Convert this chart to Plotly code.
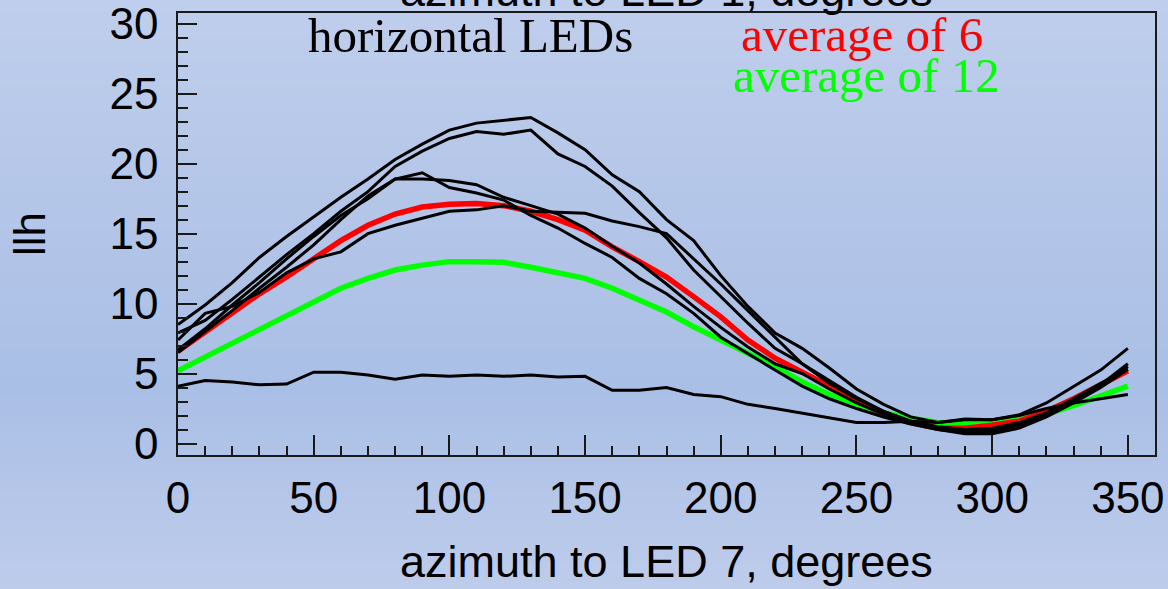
import plotly.graph_objects as go

# azimuth samples (degrees)
azimuth = list(range(0, 360, 10))

# individual horizontal LED responses
led_a = [8.5, 9.9, 11.5, 13.3, 14.8, 16.2, 17.6, 18.9, 20.3, 21.4, 22.4, 22.9,
         23.1, 23.3, 22.2, 21.0, 19.2, 18.0, 16.0, 14.5, 12.0, 9.8, 7.9, 6.8,
         5.4, 3.9, 2.8, 1.9, 1.5, 1.75, 1.7, 2.05, 2.9, 4.05, 5.25, 6.8]
led_b = [7.9, 8.8, 10.3, 11.9, 13.5, 15.0, 16.6, 18.0, 19.8, 20.9, 21.8, 22.3,
         22.1, 22.4, 20.7, 19.8, 18.4, 16.5, 14.7, 12.4, 10.5, 8.6, 6.8, 5.7,
         4.3, 3.2, 2.3, 1.6, 1.0, 0.8, 0.85, 1.3, 2.0, 3.0, 4.1, 5.5]
led_c = [6.7, 8.2, 9.9, 11.5, 13.2, 14.8, 16.3, 17.5, 18.9, 19.35, 18.3, 17.9,
         17.4, 16.3, 15.4, 14.3, 13.3, 11.8, 10.7, 9.3, 7.6, 6.4, 5.25, 4.1,
         3.2, 2.5, 1.9, 1.4, 1.0, 0.7, 0.7, 1.1, 1.9, 2.9, 4.0, 5.3]
led_d = [6.5, 8.0, 9.5, 11.1, 12.6, 14.2, 16.0, 17.7, 18.9, 18.9, 18.8, 18.5,
         17.6, 17.0, 16.4, 15.4, 14.1, 12.9, 11.4, 9.8, 8.3, 6.9, 5.7, 5.0,
         3.9, 2.9, 2.1, 1.5, 1.1, 0.9, 1.0, 1.4, 2.1, 3.1, 4.2, 5.7]
led_e = [7.4, 9.3, 9.8, 10.8, 12.2, 13.2, 13.7, 15.0, 15.6, 16.1, 16.6, 16.7,
         17.0, 16.6, 16.5, 16.45, 15.9, 15.5, 15.0, 13.2, 11.4, 9.5, 7.6, 5.7,
         4.5, 3.3, 2.3, 1.6, 1.2, 1.0, 1.1, 1.5, 2.2, 3.2, 4.3, 5.3]
led_f = [4.1, 4.5, 4.4, 4.2, 4.25, 5.1, 5.1, 4.9, 4.6, 4.9, 4.8, 4.9,
         4.8, 4.9, 4.75, 4.8, 3.8, 3.8, 4.0, 3.5, 3.35, 2.8, 2.5, 2.15,
         1.8, 1.5, 1.5, 1.6, 1.5, 1.7, 1.7, 2.0, 2.5, 2.9, 3.2, 3.5]

# averaged responses
avg_6 = [6.6, 8.0, 9.3, 10.7, 11.9, 13.2, 14.5, 15.6, 16.4, 16.9, 17.1, 17.15,
         17.0, 16.6, 16.0, 15.25, 14.05, 13.0, 11.9, 10.5, 9.05, 7.4, 6.1, 5.1,
         4.1, 3.0, 2.1, 1.5, 1.1, 1.1, 1.3, 1.6, 2.3, 3.2, 4.2, 5.2]
avg_12 = [5.2, 6.2, 7.15, 8.2, 9.2, 10.1, 11.1, 11.8, 12.4, 12.75, 13.0, 13.0,
          12.95, 12.6, 12.25, 11.8, 11.1, 10.25, 9.4, 8.35, 7.4, 6.45, 5.5, 4.4,
          3.5, 2.8, 2.2, 1.8, 1.5, 1.4, 1.45, 1.7, 2.1, 2.7, 3.4, 4.1]

x_ticks = [0, 50, 100, 150, 200, 250, 300, 350]
y_ticks = [0, 5, 10, 15, 20, 25, 30]

SANS = "Liberation Sans, Arial, sans-serif"
SERIF = "Liberation Serif, Times New Roman, serif"
AXIS = "#1a1a1a"

W, H = 1168, 589
L, R, T, B = 178, 13, 13, 134
plot_w = W - L - R
plot_h = H - T - B


def px_to_paper_x(px):
    return (px - L) / plot_w


def px_to_paper_y(py):
    return (H - B - py) / plot_h


fig = go.Figure()

fig.add_trace(go.Scatter(x=azimuth, y=avg_12, mode="lines",
                         line=dict(color="#00ff00", width=5.5)))
fig.add_trace(go.Scatter(x=azimuth, y=avg_6, mode="lines",
                         line=dict(color="#ff0000", width=5.5)))
for led in (led_a, led_b, led_c, led_d, led_e, led_f):
    fig.add_trace(go.Scatter(x=azimuth, y=led, mode="lines",
                             line=dict(color="black", width=3)))

# soft vertical background gradient
stops = [(0, (191, 206, 236)), (200, (180, 198, 232)),
         (390, (170, 191, 230)), (589, (190, 204, 235))]


def bg_color(py):
    for (p0, c0), (p1, c1) in zip(stops[:-1], stops[1:]):
        if p0 <= py <= p1:
            t = (py - p0) / (p1 - p0)
            return "rgb(%d,%d,%d)" % tuple(round(a + (b - a) * t) for a, b in zip(c0, c1))
    return "rgb(%d,%d,%d)" % stops[-1][1]


shapes = []
step = 6
for py in range(0, H, step):
    shapes.append(dict(
        type="rect", xref="paper", yref="paper", layer="below",
        x0=px_to_paper_x(-2), x1=px_to_paper_x(W + 2),
        y0=px_to_paper_y(py + step + 1), y1=px_to_paper_y(py),
        line=dict(width=0), fillcolor=bg_color(py + step / 2)))

annotations = [
    dict(text="azimuth to LED 1, degrees", x=0.5, y=px_to_paper_y(18),
         xref="paper", yref="paper", xanchor="center", yanchor="bottom",
         showarrow=False, font=dict(family=SANS, size=45, color="black")),
    dict(text="horizontal LEDs", x=px_to_paper_x(306), y=px_to_paper_y(65),
         xref="paper", yref="paper", xanchor="left", yanchor="bottom",
         showarrow=False, font=dict(family=SERIF, size=49, color="black")),
    dict(text="average of 6", x=px_to_paper_x(739), y=px_to_paper_y(64),
         xref="paper", yref="paper", xanchor="left", yanchor="bottom",
         showarrow=False, font=dict(family=SERIF, size=49, color="#ff0000")),
    dict(text="average of 12", x=px_to_paper_x(731), y=px_to_paper_y(105),
         xref="paper", yref="paper", xanchor="left", yanchor="bottom",
         showarrow=False, font=dict(family=SERIF, size=49, color="#00ff00")),
    dict(text="llh", x=px_to_paper_x(29), y=0.5, textangle=-90,
         xref="paper", yref="paper", xanchor="center", yanchor="middle",
         showarrow=False, font=dict(family=SANS, size=44, color="black")),
    dict(text="azimuth to LED 7, degrees", x=0.5, y=px_to_paper_y(589),
         xref="paper", yref="paper", xanchor="center", yanchor="bottom",
         showarrow=False, font=dict(family=SANS, size=45, color="black")),
]

fig.update_layout(
    width=W, height=H,
    margin=dict(l=L, r=R, t=T, b=B, autoexpand=False),
    showlegend=False,
    paper_bgcolor="rgb(180,197,232)",
    plot_bgcolor="rgba(0,0,0,0)",
    shapes=shapes,
    annotations=annotations,
    xaxis=dict(
        range=[0, 360], tickvals=x_ticks, ticks="inside", ticklen=20,
        tickwidth=1.5, tickcolor=AXIS, showline=True, linecolor=AXIS,
        linewidth=1.5, mirror=True, showgrid=False, zeroline=False,
        ticklabelstandoff=3, ticklabeloverflow="allow",
        tickfont=dict(family=SANS, size=44, color="black"),
        minor=dict(dtick=10, tick0=0, ticks="inside", ticklen=9,
                   tickwidth=1.5, tickcolor=AXIS, showgrid=False),
    ),
    yaxis=dict(
        range=[-0.82, 30.77], tickvals=y_ticks, ticks="inside", ticklen=19,
        tickwidth=1.5, tickcolor=AXIS, showline=True, linecolor=AXIS,
        linewidth=1.5, mirror=True, showgrid=False, zeroline=False,
        ticklabelstandoff=9, ticklabeloverflow="allow",
        tickfont=dict(family=SANS, size=44, color="black"),
        minor=dict(dtick=1, tick0=0, ticks="inside", ticklen=10,
                   tickwidth=1.5, tickcolor=AXIS, showgrid=False),
    ),
)

fig.write_html("out.html")
